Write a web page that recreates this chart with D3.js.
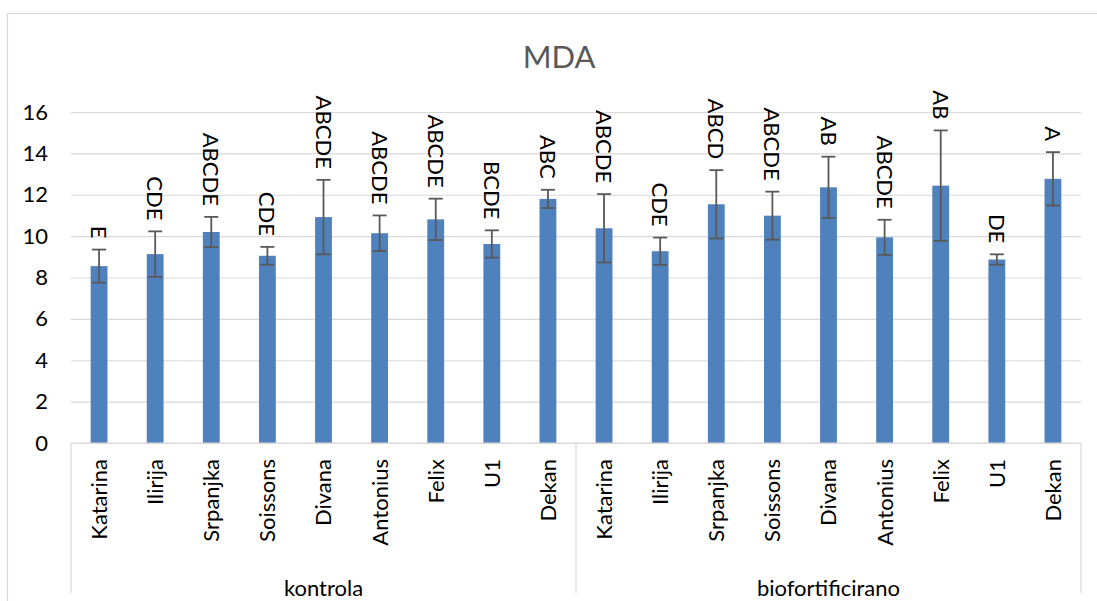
<!DOCTYPE html>
<html>
<head>
<meta charset="utf-8">
<script src="https://cdn.jsdelivr.net/npm/d3@7"></script>
<style>
	html, body { margin: 0; padding: 0; background: #fff; }
	svg { display: block; font-family: Lato, "Open Sans", sans-serif; }
</style>
</head>
<body>
<div id="main-view"></div>
<script>
// MDA chart data
var cultivars = ["Katarina", "Ilirija", "Srpanjka", "Soissons", "Divana", "Antonius", "Felix", "U1", "Dekan"];
var groups = ["kontrola", "biofortificirano"];

var kontrolaMean = [8.55, 9.13, 10.2, 9.05, 10.92, 10.14, 10.81, 9.62, 11.8];
var kontrolaErr = [0.8, 1.1, 0.73, 0.43, 1.8, 0.86, 1.0, 0.66, 0.44];
var kontrolaLetters = ["E", "CDE", "ABCDE", "CDE", "ABCDE", "ABCDE", "ABCDE", "BCDE", "ABC"];

var bioMean = [10.38, 9.27, 11.54, 10.99, 12.36, 9.94, 12.44, 8.87, 12.77];
var bioErr = [1.65, 0.66, 1.65, 1.16, 1.48, 0.85, 2.67, 0.25, 1.29];
var bioLetters = ["ABCDE", "CDE", "ABCD", "ABCDE", "AB", "ABCDE", "AB", "DE", "A"];

var yTicks = [0, 2, 4, 6, 8, 10, 12, 14, 16];
var title = "MDA";

var width = 1097,
	height = 601;

// plot area (note: "top" is taken by window.top, so prefix these)
var plotLeft = 71,
	plotRight = 1081,
	plotTop = 112,
	plotBottom = 443;

var fontSize = "22px";
var gridColor = "#d9d9d9";
var barColor = "#4f81bd";
var errColor = "#595959";

// flatten into one row per bar
var rows = [];
groups.forEach(function(g, gi) {
	var means = gi === 0 ? kontrolaMean : bioMean;
	var errs = gi === 0 ? kontrolaErr : bioErr;
	var letters = gi === 0 ? kontrolaLetters : bioLetters;
	cultivars.forEach(function(c, ci) {
		rows.push({
			key: g + "-" + c,
			group: g,
			name: c,
			value: means[ci],
			err: errs[ci],
			letter: letters[ci]
		});
	});
});

var svg = d3.select("#main-view").append("svg")
	.attr("width", width)
	.attr("height", height);

// chart border (runs off the right and bottom edge in the reference)
svg.append("rect")
	.attr("x", 7.5)
	.attr("y", 13.5)
	.attr("width", 1110)
	.attr("height", 620)
	.attr("fill", "none")
	.attr("stroke", gridColor)
	.attr("stroke-width", 1.2);

var x = d3.scaleBand()
	.domain(rows.map(function(d) { return d.key; }))
	.range([plotLeft, plotRight])
	.paddingInner(0.7)
	.paddingOuter(0.35);

var y = d3.scaleLinear()
	.domain([0, 16])
	.range([plotBottom, plotTop]);

// gridlines + y labels
var yAxis = d3.axisLeft(y)
	.tickValues(yTicks)
	.tickSize(-(plotRight - plotLeft))
	.tickPadding(23);

var yg = svg.append("g")
	.attr("transform", "translate(" + plotLeft + ",0)")
	.call(yAxis);
yg.select(".domain").remove();
yg.selectAll(".tick line")
	.attr("stroke", gridColor)
	.attr("stroke-width", 1.2);
yg.selectAll(".tick text")
	.attr("fill", "#000")
	.style("font-size", fontSize)
	.style("font-family", "Lato, sans-serif");

svg.append("text")
	.attr("x", 559)
	.attr("y", 68)
	.attr("text-anchor", "middle")
	.attr("fill", "#595959")
	.style("font-size", "31px")
	.text(title);

// bars
svg.append("g").selectAll("rect")
	.data(rows)
	.enter().append("rect")
	.attr("x", function(d) { return x(d.key); })
	.attr("y", function(d) { return y(d.value); })
	.attr("width", x.bandwidth())
	.attr("height", function(d) { return y(0) - y(d.value); })
	.attr("fill", barColor);

// error bars
var cap = 7;
var eb = svg.append("g")
	.attr("stroke", errColor)
	.attr("stroke-width", 1.8)
	.attr("fill", "none");
rows.forEach(function(d) {
	var cx = x(d.key) + x.bandwidth() / 2;
	var y1 = y(d.value + d.err),
		y2 = y(d.value - d.err);
	eb.append("line").attr("x1", cx).attr("x2", cx).attr("y1", y1).attr("y2", y2);
	eb.append("line").attr("x1", cx - cap).attr("x2", cx + cap).attr("y1", y1).attr("y2", y1);
	eb.append("line").attr("x1", cx - cap).attr("x2", cx + cap).attr("y1", y2).attr("y2", y2);
});

// significance letters, rotated clockwise, sitting above the error bar
svg.append("g").selectAll("text")
	.data(rows)
	.enter().append("text")
	.attr("transform", function(d) {
		var cx = x(d.key) + x.bandwidth() / 2;
		return "translate(" + cx + "," + (y(d.value + d.err) - 11) + ") rotate(90)";
	})
	.attr("text-anchor", "end")
	.attr("dy", "0.36em")
	.attr("fill", "#000")
	.style("font-size", fontSize)
	.text(function(d) { return d.letter; });

// category axis
var ax = svg.append("g")
	.attr("stroke", gridColor)
	.attr("stroke-width", 1.2);
ax.append("line")
	.attr("x1", plotLeft).attr("x2", plotRight)
	.attr("y1", plotBottom).attr("y2", plotBottom);

var groupEdges = [plotLeft];
groups.forEach(function(g) {
	var keys = rows.filter(function(d) { return d.group === g; });
	var last = keys[keys.length - 1];
	groupEdges.push(x(last.key) + x.bandwidth() / 2 + x.step() / 2);
});
groupEdges[groupEdges.length - 1] = plotRight;
groupEdges.forEach(function(gx) {
	ax.append("line")
		.attr("x1", gx).attr("x2", gx)
		.attr("y1", plotBottom).attr("y2", 593);
});

svg.append("g").selectAll("text")
	.data(rows)
	.enter().append("text")
	.attr("transform", function(d) {
		var cx = x(d.key) + x.bandwidth() / 2;
		return "translate(" + cx + "," + (plotBottom + 16) + ") rotate(-90)";
	})
	.attr("text-anchor", "end")
	.attr("dy", "0.36em")
	.attr("fill", "#000")
	.style("font-size", fontSize)
	.text(function(d) { return d.name; });

svg.append("g").selectAll("text")
	.data(groups)
	.enter().append("text")
	.attr("x", function(d, i) { return (groupEdges[i] + groupEdges[i + 1]) / 2; })
	.attr("y", 596)
	.attr("text-anchor", "middle")
	.attr("fill", "#000")
	.style("font-size", fontSize)
	.text(function(d) { return d; });
</script>
</body>
</html>
